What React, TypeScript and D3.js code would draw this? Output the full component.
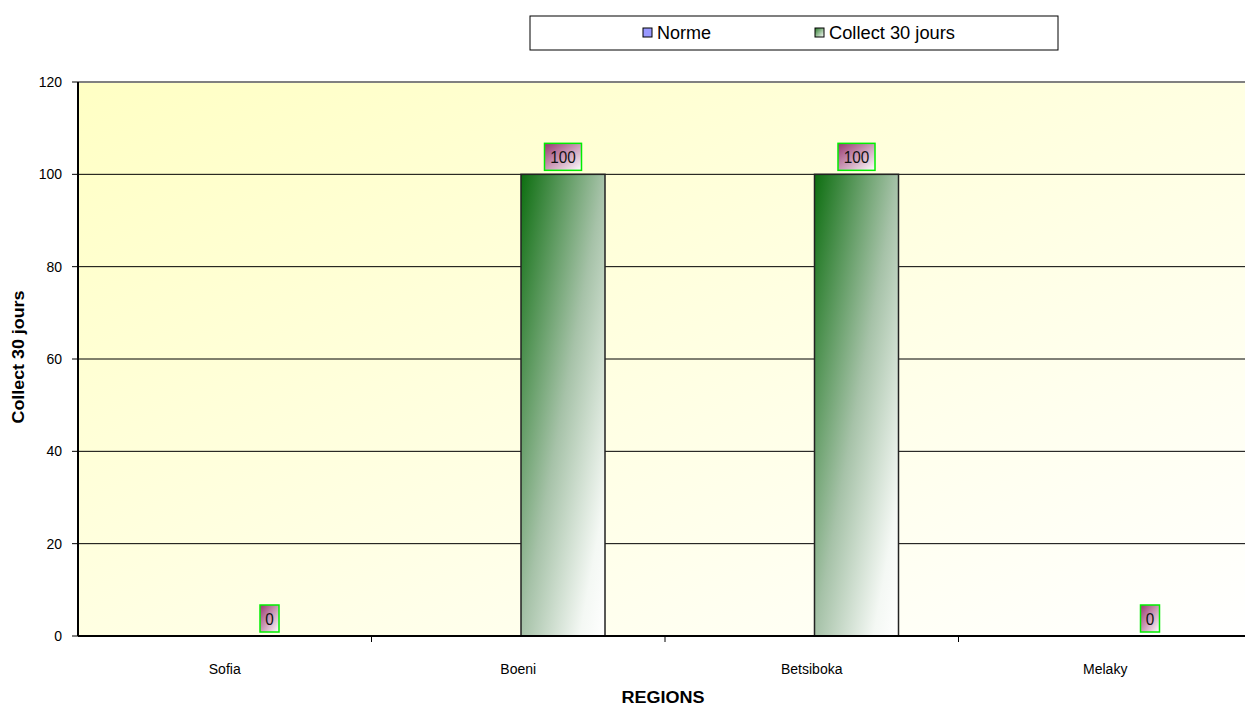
import React from "react";
import * as d3 from "d3";

const categories = ["Sofia", "Boeni", "Betsiboka", "Melaky"];
const seriesNames = ["Norme", "Collect 30 jours"];
const normeValues = [0, 0, 0, 0];
const collectValues = [0, 100, 100, 0];
const yTicks = [0, 20, 40, 60, 80, 100, 120];

const W = 1245;
const H = 707;
const FONT = "'Liberation Sans Narrow', 'Arial Narrow', 'Liberation Sans', Arial, sans-serif";

export default function App() {
  const left = 78, top = 82, bottom = 636, right = 1252;
  const y = d3.scaleLinear().domain([0, 120]).range([bottom, top]);
  const x = d3.scaleBand<string>().domain(categories).range([left, right]).padding(0);
  const bw = x.bandwidth();
  const inner = d3.scaleBand<string>().domain(seriesNames)
    .range([bw * (65.5 / 293.5), bw * ((65.5 + 168) / 293.5)]).padding(0);

  const data = categories.map((c, i) => ({ c, norme: normeValues[i], collect: collectValues[i] }));

  return (
    <svg width={W} height={H} style={{ position: "absolute", left: 0, top: 0, background: "#fff" }} fontFamily={FONT}>
      <defs>
        <linearGradient id="bg" x1="0" y1="0" x2="1" y2="1">
          <stop offset="0" stopColor="#ffffc4" />
          <stop offset="0.5" stopColor="#ffffe2" />
          <stop offset="1" stopColor="#ffffff" />
        </linearGradient>
        <linearGradient id="barG" x1="0" y1="0" x2="1" y2="1">
          <stop offset="0" stopColor="#0d6e10" />
          <stop offset="0.5" stopColor="#a6c2a8" />
          <stop offset="0.85" stopColor="#f4f8f4" />
          <stop offset="1" stopColor="#ffffff" />
        </linearGradient>
        <linearGradient id="lblG" x1="0" y1="0" x2="1" y2="1">
          <stop offset="0" stopColor="#983670" />
          <stop offset="1" stopColor="#ffffff" />
        </linearGradient>
        <linearGradient id="legG" x1="0" y1="0" x2="1" y2="1">
          <stop offset="0" stopColor="#2a7a2a" />
          <stop offset="1" stopColor="#ffffff" />
        </linearGradient>
      </defs>

      {/* plot background */}
      <rect x={left} y={top} width={right - left} height={bottom - top} fill="url(#bg)" />
      <line x1={left} x2={right} y1={top} y2={top} stroke="#808080" strokeWidth={2} />

      {/* gridlines */}
      {yTicks.filter(t => t > 0 && t < 120).map(t => (
        <line key={t} x1={left} x2={right} y1={y(t)} y2={y(t)} stroke="#000" strokeWidth={1} />
      ))}

      {/* bars */}
      {data.map(d => {
        const x0 = (x(d.c) as number) + (inner("Collect 30 jours") as number);
        const w = inner.bandwidth();
        const h = bottom - y(d.collect);
        return h > 0 ? (
          <rect key={d.c} x={x0} y={y(d.collect)} width={w} height={h} fill="url(#barG)" stroke="#222" strokeWidth={1.5} />
        ) : null;
      })}

      {/* axes */}
      <line x1={left} x2={right} y1={bottom} y2={bottom} stroke="#000" strokeWidth={2} />
      <line x1={left} x2={left} y1={top} y2={bottom} stroke="#000" strokeWidth={2} />
      {yTicks.map(t => (
        <g key={t}>
          <line x1={left - 6} x2={left} y1={y(t)} y2={y(t)} stroke="#000" />
          <text x={left - 16} y={y(t)} dy="0.35em" textAnchor="end" fontSize={14} fill="#000">{t}</text>
        </g>
      ))}
      {categories.map((c, i) => (
        <g key={c}>
          {i > 0 && <line x1={x(c)} x2={x(c)} y1={bottom} y2={bottom + 6} stroke="#000" />}
          <text x={(x(c) as number) + bw / 2} y={669} dy="0.35em" textAnchor="middle" fontSize={14} fill="#000">{c}</text>
        </g>
      ))}

      {/* data labels */}
      {data.map(d => {
        const cx = (x(d.c) as number) + (inner("Collect 30 jours") as number) + inner.bandwidth() / 2;
        const label = String(d.collect);
        const bwid = label.length * 9 + 10;
        const by = y(d.collect) - 4 - 27;
        return (
          <g key={"l" + d.c}>
            <rect x={cx - bwid / 2} y={by} width={bwid} height={27} fill="url(#lblG)" stroke="#00ee00" strokeWidth={1.5} />
            <text x={cx} y={by + 14} dy="0.35em" textAnchor="middle" fontSize={16} fill="#111"
              textLength={label.length * 8.5} lengthAdjust="spacingAndGlyphs">{label}</text>
          </g>
        );
      })}

      {/* axis titles */}
      <text x={663} y={697} dy="0.35em" textAnchor="middle" fontSize={16} fontWeight="bold" fill="#000"
        textLength={83} lengthAdjust="spacingAndGlyphs">REGIONS</text>
      <text transform={`translate(24,${357}) rotate(-90)`} textAnchor="middle" fontSize={17} fontWeight="bold" fill="#000"
        textLength={133} lengthAdjust="spacingAndGlyphs">Collect 30 jours</text>

      {/* legend */}
      <rect x={530} y={16} width={528} height={34} fill="#fff" stroke="#000" strokeWidth={1} />
      <rect x={643} y={28} width={9} height={9} fill="#9999ff" stroke="#000" strokeWidth={1} />
      <text x={657} y={33} dy="0.35em" fontSize={18} fill="#000" textLength={54} lengthAdjust="spacingAndGlyphs">Norme</text>
      <rect x={815} y={28} width={9} height={9} fill="url(#legG)" stroke="#000" strokeWidth={1} />
      <text x={829} y={33} dy="0.35em" fontSize={18} fill="#000" textLength={126} lengthAdjust="spacingAndGlyphs">Collect 30 jours</text>
    </svg>
  );
}
